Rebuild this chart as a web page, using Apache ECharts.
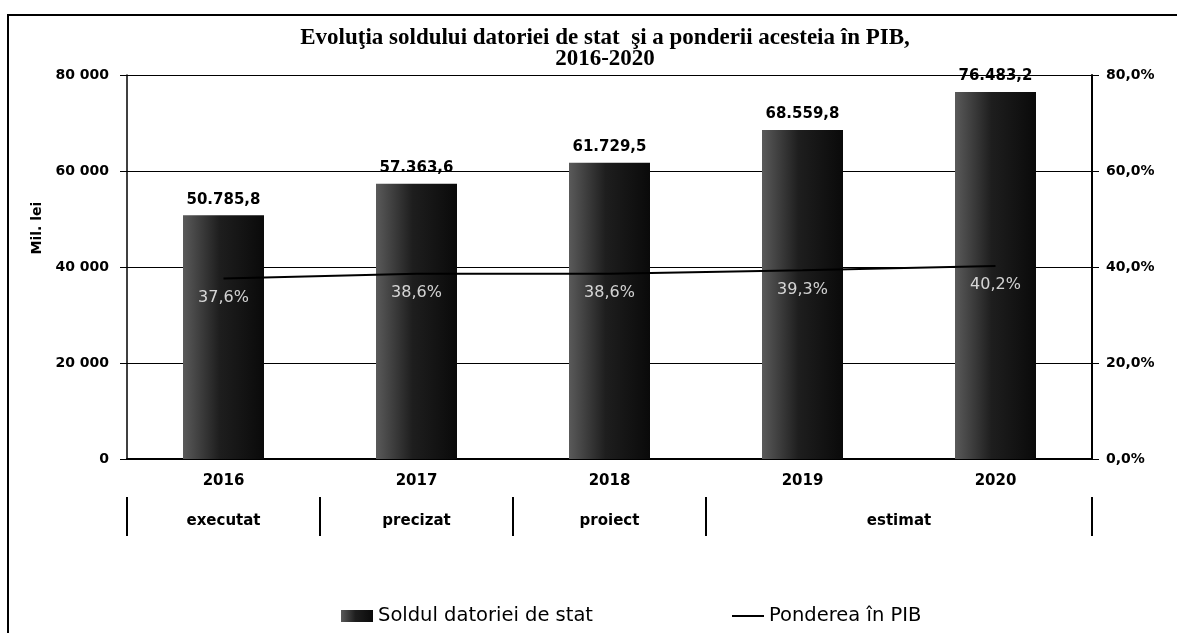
<!DOCTYPE html>
<html>
<head>
<meta charset="utf-8">
<script src="https://cdn.jsdelivr.net/npm/echarts@6/dist/echarts.min.js"></script>
<style>
  html, body { margin: 0; padding: 0; background: #fff; }
  #chart { width: 1177px; height: 633px; }
</style>
</head>
<body>
<div id="chart"></div>
<script>
const years = ['2016', '2017', '2018', '2019', '2020']
const debt = [50785.8, 57363.6, 61729.5, 68559.8, 76483.2]
const share = [37.6, 38.6, 38.6, 39.3, 40.2]
const stages = ['executat', 'precizat', 'proiect', 'estimat']
const stageCenters = [0.5, 1.5, 2.5, 4]
const stageBounds = [0, 1, 2, 3, 5]

// romanian number format: 50.785,8
function fmtRo(v, dec) {
  const parts = v.toFixed(dec).split('.')
  const int = parts[0].replace(/\B(?=(\d{3})+(?!\d))/g, '.')
  return dec ? int + ',' + parts[1] : int
}
const pct = v => v.toFixed(1).replace('.', ',') + '%'

const sans = '"DejaVu Sans", Verdana, sans-serif'
const myChart = echarts.init(document.getElementById('chart'))

const option = {
  animation: false,
  title: {
    text: 'Evoluţia soldului datoriei de stat  şi a ponderii acesteia în PIB,\n2016-2020',
    left: 600,
    textAlign: 'center',
    top: 23,
    textStyle: {
      fontFamily: '"Liberation Serif", serif',
      fontWeight: 'bold',
      fontSize: 23,
      lineHeight: 21,
      color: '#000'
    }
  },
  legend: {
    top: 601,
    left: 336,
    itemGap: 139,
    itemWidth: 32,
    itemHeight: 12,
    textStyle: { fontFamily: sans, fontSize: 19.5, color: '#000' },
    data: [
      { name: 'Soldul datoriei de stat', icon: 'rect' },
      { name: 'Ponderea în PIB', icon: 'path://M0,0 L32,0 L32,2 L0,2 Z' }
    ]
  },
  grid: {
    left: 127,
    right: 85,
    top: 75,
    bottom: 174
  },
  xAxis: [
    {
      type: 'category',
      data: years,
      axisLine: { lineStyle: { color: '#000', width: 2 } },
      axisTick: { show: false },
      axisLabel: {
        color: '#000',
        fontFamily: sans,
        fontWeight: 'bold',
        fontSize: 15,
        margin: 15
      }
    },
    {
      // second level: stage of the budget figures
      type: 'value',
      min: 0,
      max: 5,
      position: 'bottom',
      offset: 38,
      axisLine: { show: false, onZero: false },
      splitLine: { show: false },
      axisTick: {
        show: true,
        length: 39,
        customValues: stageBounds,
        lineStyle: { color: '#000', width: 2 }
      },
      axisLabel: {
        customValues: stageCenters,
        margin: 17,
        color: '#000',
        fontFamily: sans,
        fontWeight: 'bold',
        fontSize: 15,
        formatter: v => stages[stageCenters.indexOf(v)]
      }
    }
  ],
  yAxis: [
    {
      type: 'value',
      min: 0,
      max: 80000,
      interval: 20000,
      name: 'Mil. lei',
      nameLocation: 'middle',
      nameGap: 62,
      nameRotate: 90,
      nameTextStyle: {
        color: '#000', fontFamily: sans, fontWeight: 'bold', fontSize: 14,
        padding: [0, 0, 0, 78]
      },
      axisLine: { show: true, lineStyle: { color: '#000', width: 1.5 } },
      axisTick: { show: true, length: 7, lineStyle: { color: '#000' } },
      splitLine: { lineStyle: { color: '#000', width: 1.2 } },
      axisLabel: {
        color: '#000',
        fontFamily: sans,
        fontWeight: 'bold',
        fontSize: 14,
        margin: 18,
        formatter: v => String(v).replace(/\B(?=(\d{3})+(?!\d))/g, ' ')
      }
    },
    {
      type: 'value',
      min: 0,
      max: 80,
      interval: 20,
      axisLine: { show: true, lineStyle: { color: '#000', width: 2 } },
      axisTick: { show: true, length: 7, lineStyle: { color: '#000' } },
      splitLine: { show: false },
      axisLabel: {
        color: '#000',
        fontFamily: sans,
        fontWeight: 'bold',
        fontSize: 14,
        margin: 14,
        formatter: pct
      }
    }
  ],
  series: [
    {
      name: 'Soldul datoriei de stat',
      type: 'bar',
      data: debt,
      barWidth: 81,
      itemStyle: {
        color: {
          type: 'linear', x: 0, y: 0, x2: 1, y2: 0,
          colorStops: [
            { offset: 0, color: '#5a5a5a' },
            { offset: 0.45, color: '#1e1e1e' },
            { offset: 1, color: '#0a0a0a' }
          ]
        }
      },
      label: {
        show: true,
        position: 'top',
        distance: 8,
        color: '#000',
        fontFamily: sans,
        fontWeight: 'bold',
        fontSize: 15,
        formatter: p => fmtRo(p.value, 1)
      }
    },
    {
      name: 'Ponderea în PIB',
      type: 'line',
      yAxisIndex: 1,
      data: share,
      symbol: 'none',
      lineStyle: { color: '#000', width: 2 },
      itemStyle: { color: '#000' }
    },
    {
      // white share labels inside the bars
      name: 'share labels',
      type: 'scatter',
      yAxisIndex: 1,
      data: share,
      symbolSize: 0,
      silent: true,
      label: {
        show: true,
        position: 'bottom',
        distance: 11,
        color: '#fff',
        fontFamily: sans,
        fontSize: 16,
        formatter: p => pct(p.value)
      }
    }
  ],
  graphic: [
    {
      type: 'rect',
      shape: { x: 8, y: 15, width: 1180, height: 630 },
      style: { fill: 'none', stroke: '#000', lineWidth: 2 },
      silent: true
    }
  ]
}

myChart.setOption(option)
</script>
</body>
</html>
